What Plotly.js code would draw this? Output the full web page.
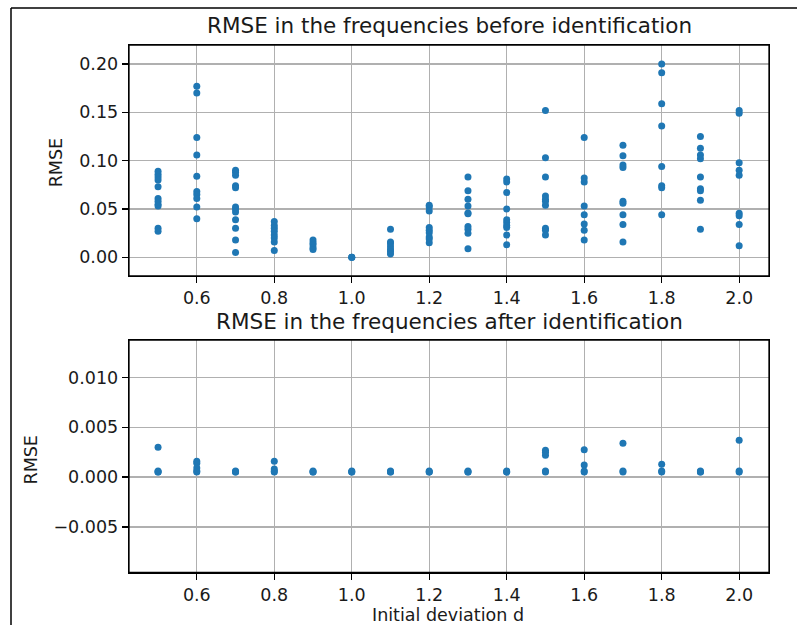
<!DOCTYPE html>
<html>
<head>
<meta charset="utf-8">
<script src="https://cdn.plot.ly/plotly-3.0.1.min.js"></script>
<style>html,body{margin:0;padding:0;background:#fff;}#chart{width:797px;height:625px;}</style>
</head>
<body>
<div id="chart"></div>
<script>
// Initial deviation values (x categories)
const deviations = [0.5, 0.6, 0.7, 0.8, 0.9, 1.0, 1.1, 1.2, 1.3, 1.4, 1.5, 1.6, 1.7, 1.8, 1.9, 2.0];

// RMSE before identification, one list per deviation
const rmseBefore = [
  [0.089, 0.086, 0.083, 0.080, 0.073, 0.061, 0.058, 0.055, 0.053, 0.030, 0.027],
  [0.177, 0.170, 0.124, 0.106, 0.084, 0.068, 0.065, 0.061, 0.052, 0.040],
  [0.090, 0.088, 0.085, 0.074, 0.072, 0.052, 0.050, 0.047, 0.039, 0.030, 0.018, 0.005],
  [0.037, 0.033, 0.030, 0.027, 0.023, 0.020, 0.016, 0.007],
  [0.018, 0.015, 0.013, 0.010, 0.008],
  [0.000, 0.000, 0.000],
  [0.029, 0.016, 0.014, 0.011, 0.008, 0.006, 0.0035],
  [0.054, 0.052, 0.048, 0.031, 0.028, 0.0255, 0.021, 0.019, 0.015],
  [0.083, 0.069, 0.060, 0.053, 0.046, 0.045, 0.032, 0.029, 0.025, 0.009],
  [0.081, 0.078, 0.067, 0.050, 0.039, 0.036, 0.033, 0.031, 0.023, 0.013],
  [0.152, 0.103, 0.083, 0.0635, 0.060, 0.058, 0.054, 0.030, 0.028, 0.023],
  [0.124, 0.082, 0.078, 0.053, 0.044, 0.0345, 0.028, 0.018],
  [0.116, 0.105, 0.0955, 0.093, 0.058, 0.056, 0.044, 0.034, 0.016],
  [0.200, 0.191, 0.159, 0.136, 0.094, 0.074, 0.072, 0.044],
  [0.125, 0.113, 0.106, 0.102, 0.083, 0.071, 0.069, 0.059, 0.029],
  [0.152, 0.149, 0.098, 0.090, 0.085, 0.0455, 0.043, 0.034, 0.012]
];

// RMSE after identification, one list per deviation
const rmseAfter = [
  [0.0030, 0.0006, 0.0005, 0.0005],
  [0.0016, 0.0014, 0.0009, 0.0006, 0.0005],
  [0.0006, 0.0005, 0.0005],
  [0.0016, 0.0008, 0.0006, 0.0005],
  [0.0006, 0.0005, 0.0005],
  [0.0006, 0.0005, 0.0005],
  [0.0006, 0.0005, 0.0005],
  [0.0006, 0.0005, 0.0005],
  [0.0006, 0.0005, 0.0005],
  [0.0006, 0.0005, 0.0005],
  [0.0027, 0.0025, 0.0022, 0.0006, 0.0005],
  [0.00275, 0.0012, 0.0006, 0.0005],
  [0.0034, 0.0006, 0.0005],
  [0.0013, 0.0006, 0.0005],
  [0.0006, 0.0005, 0.0005],
  [0.0037, 0.0006, 0.0005]
];

const titleBefore = "RMSE in the frequencies before identification";
const titleAfter = "RMSE in the frequencies after identification";
const yLabel = "RMSE";
const xLabel = "Initial deviation d";

function flatten(groups) {
  const xs = [], ys = [];
  groups.forEach((g, i) => g.forEach(v => { xs.push(deviations[i]); ys.push(v); }));
  return {xs, ys};
}
const b = flatten(rmseBefore);
const a = flatten(rmseAfter);

const blue = '#1f77b4';
const FONT = 'DejaVu Sans, sans-serif';
const TXT = '#1a1a1a';
const W = 797, H = 625;
const px = v => v / W;
const py = v => 1 - v / H;

const marker = {color: blue, size: 7, line: {width: 0}};
const traces = [
  {x: b.xs, y: b.ys, type: 'scatter', mode: 'markers', marker: marker, xaxis: 'x', yaxis: 'y', hoverinfo: 'x+y'},
  {x: a.xs, y: a.ys, type: 'scatter', mode: 'markers', marker: marker, xaxis: 'x2', yaxis: 'y2', hoverinfo: 'x+y'}
];

const axCommon = {
  showgrid: true, gridcolor: '#b0b0b0', gridwidth: 1.3,
  showline: true, linecolor: '#000', linewidth: 1.3, mirror: true,
  ticks: 'outside', ticklen: 6, tickwidth: 1.3, tickcolor: '#000',
  zeroline: false,
  tickfont: {family: FONT, size: 17.5, color: TXT}
};

const xRange = [0.425, 2.077];
const xL = px(129), xR = px(769);
const topB = py(276), topT = py(45), botB = py(572.3), botT = py(340);
const layout = {
  width: W, height: H,
  margin: {l: 0, r: 0, t: 0, b: 0},
  paper_bgcolor: '#fff', plot_bgcolor: '#fff',
  showlegend: false,
  font: {family: FONT, size: 17.5, color: TXT},
  xaxis: Object.assign({}, axCommon, {domain: [xL, xR], anchor: 'y', range: xRange,
    tickmode: 'array', tickvals: [0.6, 0.8, 1.0, 1.2, 1.4, 1.6, 1.8, 2.0], tickformat: '.1f'}),
  yaxis: Object.assign({}, axCommon, {domain: [topB, topT], anchor: 'x', range: [-0.0193, 0.2197],
    tickmode: 'array', tickvals: [0, 0.05, 0.10, 0.15, 0.20], tickformat: '.2f'}),
  xaxis2: Object.assign({}, axCommon, {domain: [xL, xR], anchor: 'y2', range: xRange,
    tickmode: 'array', tickvals: [0.6, 0.8, 1.0, 1.2, 1.4, 1.6, 1.8, 2.0], tickformat: '.1f'}),
  yaxis2: Object.assign({}, axCommon, {domain: [botB, botT], anchor: 'x2', range: [-0.00955, 0.01375],
    tickmode: 'array', tickvals: [-0.005, 0, 0.005, 0.010], tickformat: '.3f'}),
  annotations: [
    {text: titleBefore, xref: 'paper', yref: 'paper', x: px(449), y: py(25), xanchor: 'center', yanchor: 'middle', showarrow: false, font: {family: FONT, size: 21.5, color: TXT}},
    {text: titleAfter, xref: 'paper', yref: 'paper', x: px(449), y: py(321.7), xanchor: 'center', yanchor: 'middle', showarrow: false, font: {family: FONT, size: 21.5, color: TXT}},
    {text: yLabel, xref: 'paper', yref: 'paper', x: px(56.3), y: py(163), xanchor: 'center', yanchor: 'middle', textangle: -90, showarrow: false, font: {family: FONT, size: 17.5, color: TXT}},
    {text: yLabel, xref: 'paper', yref: 'paper', x: px(30), y: py(459.5), xanchor: 'center', yanchor: 'middle', textangle: -90, showarrow: false, font: {family: FONT, size: 17.5, color: TXT}},
    {text: xLabel, xref: 'paper', yref: 'paper', x: px(448), y: py(614.5), xanchor: 'center', yanchor: 'middle', borderpad: 0, showarrow: false, font: {family: FONT, size: 17.5, color: TXT}}
  ],
  shapes: [
    {type: 'rect', xref: 'paper', yref: 'paper', x0: xL, x1: xR, y0: topB, y1: topT, line: {color: '#000', width: 1.3}, layer: 'above'},
    {type: 'rect', xref: 'paper', yref: 'paper', x0: xL, x1: xR, y0: botB, y1: botT, line: {color: '#000', width: 1.3}, layer: 'above'},
    {type: 'line', xref: 'paper', yref: 'paper', x0: px(11), x1: 1.01, y0: py(8), y1: py(8), line: {color: '#000', width: 1.5}},
    {type: 'line', xref: 'paper', yref: 'paper', x0: px(11), x1: px(11), y0: py(8), y1: -0.01, line: {color: '#000', width: 1.5}}
  ]
};

Plotly.newPlot('chart', traces, layout, {displayModeBar: false, staticPlot: true});
</script>
</body>
</html>
